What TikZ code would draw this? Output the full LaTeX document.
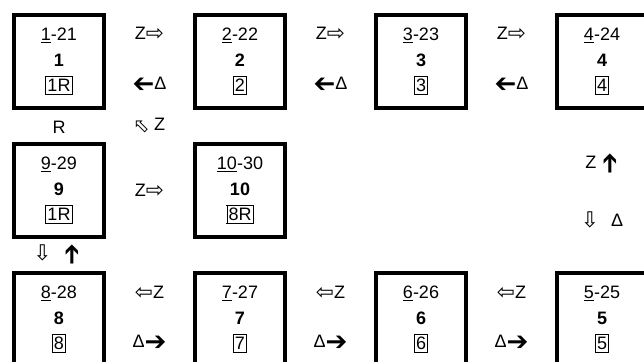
\documentclass[tikz,border=0pt]{standalone}
\usepackage{fontspec}
\setmainfont{Liberation Sans}
\newfontfamily\arrowfont{DejaVu Sans}
\usepackage{graphicx}
\usetikzlibrary{positioning, calc}
\setlength{\fboxsep}{1.2pt}
\setlength{\fboxrule}{0.8pt}
\newcommand{\hvR}{\raisebox{-2.5pt}{\scalebox{1.45}{\arrowfont ➔}}}
\newcommand{\hvL}{\reflectbox{\hvR}}
\newcommand{\hvU}{\rotatebox[origin=c]{90}{\hvR}}
\newcommand{\wtR}{\raisebox{-1pt}{\scalebox{1.2}{\arrowfont ⇨}}}
\newcommand{\wtL}{\raisebox{-1pt}{\scalebox{1.2}{\arrowfont ⇦}}}
\newcommand{\wtD}{\raisebox{-1pt}{\scalebox{1.2}{\arrowfont ⇩}}}
\newcommand{\wtNW}{\rotatebox[origin=c]{135}{\scalebox{0.9}{\wtR}}}
\newcommand{\cellbody}[4]{\underline{#1}-#2\\ \textbf{#3}\\ \fbox{\rule[-1.5pt]{0pt}{15pt}#4}}
\tikzset{
  cell/.style={
    draw=black,
    line width=4pt,
    minimum width=90pt,
    minimum height=93pt,
    inner sep=0pt,
    align=center,
    font=\fontsize{18}{25.5}\selectfont
  },
  lbl/.style={
    inner sep=1pt,
    font=\fontsize{18}{22}\selectfont
  }
}
\begin{document}
\begin{tikzpicture}[node distance=32pt and 87pt]
  \useasboundingbox (0,0) rectangle (644pt,-361pt);
  % Cells, top row
  \node[cell] (b1) at (59pt,-61.5pt) {\cellbody{1}{21}{1}{1R}};
  \node[cell, right=of b1] (b2) {\cellbody{2}{22}{2}{2}};
  \node[cell, right=of b2] (b3) {\cellbody{3}{23}{3}{3}};
  \node[cell, right=of b3] (b4) {\cellbody{4}{24}{4}{4}};
  % Cells, middle row
  \node[cell, below=of b1] (b9) {\cellbody{9}{29}{9}{1R}};
  \node[cell, right=of b9] (b10) {\cellbody{10}{30}{10}{8R}};
  % Cells, bottom row
  \node[cell, below=of b9] (b8) {\cellbody{8}{28}{8}{8}};
  \node[cell, right=of b8] (b7) {\cellbody{7}{27}{7}{7}};
  \node[cell, right=of b7] (b6) {\cellbody{6}{26}{6}{6}};
  \node[cell, right=of b6] (b5) {\cellbody{5}{25}{5}{5}};

  % Labels between cells
  \foreach \a/\b in {b1/b2, b2/b3, b3/b4} {
    \node[lbl] (zr-\a) at ($(\a.east)!0.5!(\b.west)+(0,27.5pt)$) {Z\wtR};
    \node[lbl] (dl-\a) at ($(\a.east)!0.5!(\b.west)+(0,-23.5pt)$) {\hvL Δ};
  }
  \foreach \a/\b in {b8/b7, b7/b6, b6/b5} {
    \node[lbl] (zl-\a) at ($(\a.east)!0.5!(\b.west)+(0,26.5pt)$) {\wtL Z};
    \node[lbl] (dr-\a) at ($(\a.east)!0.5!(\b.west)+(0,-23.5pt)$) {Δ\hvR};
  }
  \node[lbl] (r1) at ($(b1.south)+(0,-17pt)$) {R};
  \node[lbl] (nw1) at ($(b1.south east)!0.5!(b2.south west)+(-1pt,-16pt)$) {\wtNW\hspace{3pt}Z};
  \node[lbl] (zr-b9) at ($(b9.east)!0.5!(b10.west)$) {Z\wtR};
  \node[lbl] (zu-b4) at ($(b4.south)!0.5!(b5.north)+(0,27pt)$) {Z\hspace{8pt}\hvU};
  \node[lbl] (dd-b4) at ($(b4.south)!0.5!(b5.north)+(0,-29pt)$) {\wtD\hspace{12pt}Δ};
  \node[lbl] (du-b9) at ($(b9.south)!0.5!(b8.north)+(-2pt,0)$) {\wtD\hspace{15pt}\hvU};
\end{tikzpicture}
\end{document}
